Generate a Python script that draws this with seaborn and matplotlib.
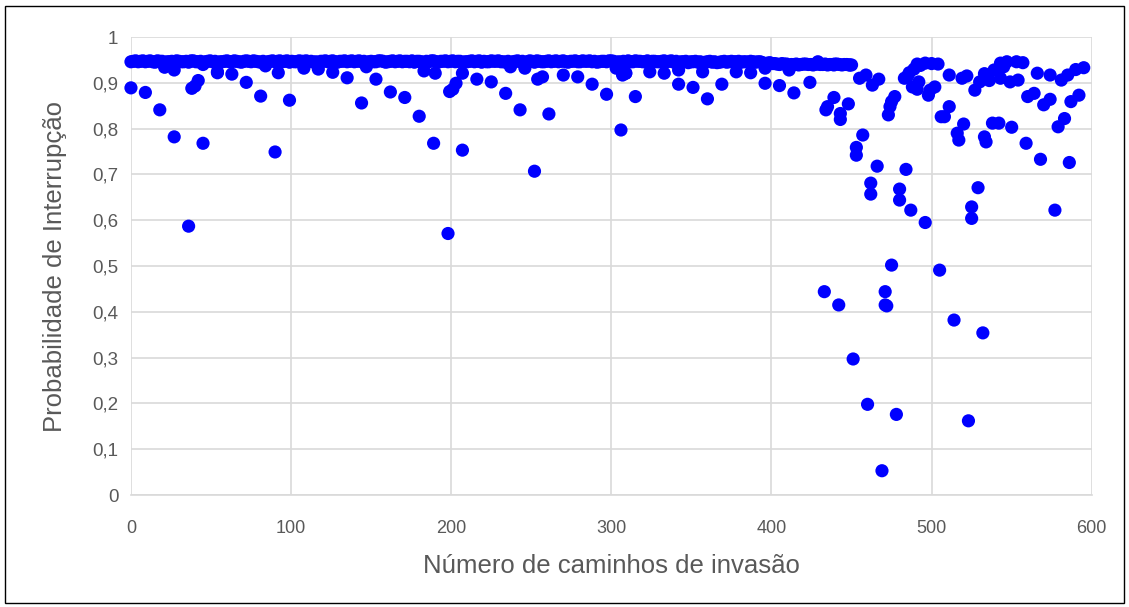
import numpy as np
import pandas as pd
import matplotlib.pyplot as plt
import seaborn as sns
from matplotlib.patches import Rectangle

# ---- dados ----
# faixa densa (x = 0, 3, 6, ..., 450)
band_y = [
    0.946, 0.948, 0.947, 0.946, 0.948, 0.945, 0.947, 0.934, 0.946, 0.928,
    0.947, 0.946, 0.945, 0.948, 0.946, 0.940, 0.947, 0.946, 0.924, 0.946,
    0.948, 0.946, 0.947, 0.945, 0.948, 0.946, 0.947, 0.945, 0.937, 0.947,
    0.946, 0.948, 0.947, 0.945, 0.946, 0.948, 0.947, 0.946, 0.945, 0.930,
    0.947, 0.946, 0.948, 0.945, 0.947, 0.946, 0.948, 0.947, 0.946, 0.935,
    0.947, 0.946, 0.948, 0.945, 0.947, 0.946, 0.948, 0.947, 0.946, 0.945,
    0.947, 0.926, 0.946, 0.948, 0.945, 0.947, 0.946, 0.948, 0.947, 0.921,
    0.946, 0.948, 0.947, 0.945, 0.946, 0.948, 0.947, 0.946, 0.945, 0.935,
    0.947, 0.946, 0.932, 0.948, 0.945, 0.947, 0.946, 0.948, 0.947, 0.946,
    0.948, 0.945, 0.947, 0.946, 0.948, 0.947, 0.946, 0.945, 0.947, 0.946,
    0.948, 0.932, 0.945, 0.921, 0.946, 0.948, 0.947, 0.946, 0.945, 0.947,
    0.946, 0.948, 0.947, 0.945, 0.928, 0.946, 0.944, 0.946, 0.945, 0.924,
    0.946, 0.945, 0.944, 0.946, 0.945, 0.947, 0.946, 0.945, 0.946, 0.947,
    0.945, 0.946, 0.932, 0.944, 0.942, 0.940, 0.941, 0.928, 0.940, 0.939,
    0.941, 0.940, 0.939, 0.941, 0.940, 0.939, 0.940, 0.941, 0.939, 0.940,
    0.939,
]
band_x = list(range(0, 3 * len(band_y), 3))

# segunda camada da faixa (x = 1.5, 4.5, ..., 448.5)
band2_y = [
    0.947, 0.946, 0.948, 0.947, 0.946, 0.948, 0.947, 0.946, 0.947, 0.948,
    0.946, 0.947, 0.948, 0.946, 0.947, 0.946, 0.948, 0.947, 0.946, 0.947,
    0.946, 0.948, 0.946, 0.947, 0.947, 0.948, 0.946, 0.947, 0.946, 0.948,
    0.947, 0.946, 0.948, 0.947, 0.946, 0.947, 0.948, 0.947, 0.946, 0.947,
    0.948, 0.947, 0.946, 0.947, 0.948, 0.947, 0.946, 0.948, 0.947, 0.946,
    0.946, 0.948, 0.947, 0.946, 0.948, 0.947, 0.946, 0.947, 0.948, 0.947,
    0.946, 0.947, 0.948, 0.946, 0.947, 0.948, 0.947, 0.946, 0.947, 0.946,
    0.947, 0.946, 0.948, 0.947, 0.946, 0.947, 0.948, 0.946, 0.947, 0.946,
    0.948, 0.947, 0.946, 0.947, 0.948, 0.946, 0.947, 0.946, 0.948, 0.947,
    0.946, 0.947, 0.948, 0.946, 0.947, 0.948, 0.947, 0.946, 0.947, 0.948,
    0.947, 0.946, 0.947, 0.948, 0.946, 0.947, 0.946, 0.948, 0.947, 0.946,
    0.947, 0.946, 0.948, 0.947, 0.946, 0.947, 0.946, 0.947, 0.946, 0.945,
    0.947, 0.946, 0.945, 0.947, 0.946, 0.946, 0.947, 0.946, 0.945, 0.946,
    0.946, 0.944, 0.943, 0.942, 0.941, 0.942, 0.941, 0.940, 0.941, 0.940,
    0.941, 0.940, 0.941, 0.940, 0.941, 0.940, 0.941, 0.940, 0.940, 0.939,
]
band2_x = [1.5 + 3 * i for i in range(len(band2_y))]

# pontos fora da faixa
out_x = [0, 9, 18, 27, 36, 38, 40, 42, 45, 54, 63, 72, 81, 90, 92, 99, 108, 126,
         135, 144, 153, 162, 171, 180, 189, 190, 198, 199, 201, 203, 207, 216, 225,
         234, 243, 252, 254, 257, 261, 270, 279, 288, 297, 306, 307, 309, 315, 324,
         333, 342, 351, 360, 369, 378, 387, 396, 405, 414, 424]
out_y = [0.889, 0.879, 0.841, 0.782, 0.587, 0.888, 0.893, 0.905, 0.768, 0.922,
         0.919, 0.901, 0.871, 0.749, 0.922, 0.862, 0.932, 0.923, 0.911, 0.856,
         0.908, 0.880, 0.868, 0.827, 0.768, 0.921, 0.571, 0.881, 0.886, 0.899,
         0.753, 0.908, 0.902, 0.877, 0.841, 0.707, 0.908, 0.913, 0.832, 0.917,
         0.913, 0.897, 0.875, 0.797, 0.917, 0.921, 0.870, 0.924, 0.921, 0.897,
         0.890, 0.865, 0.897, 0.924, 0.922, 0.899, 0.894, 0.878, 0.901]

# região final (x > 425)
tail_x = [429, 439, 449, 455, 459, 463, 467, 433, 434, 435, 439, 442, 443, 443,
          448, 451, 453, 453, 457, 460, 462, 462, 466, 469, 471, 471, 472, 473,
          474, 475, 475, 477, 478, 480, 480, 483, 484, 485, 486, 487, 488, 489,
          491, 491, 492, 493, 496, 496, 498, 499, 500, 502, 504, 505, 506, 508,
          511, 511, 514, 516, 517, 519, 520, 522, 523, 525, 525, 527, 529, 530,
          532, 533, 533, 534, 536, 538, 539, 542, 543, 543, 545, 547, 549, 550,
          553, 554, 557, 559, 560, 564, 566, 568, 570, 574, 574, 577, 579, 581,
          583, 585, 586, 587, 590, 592, 595]
tail_y = [0.946, 0.939, 0.939, 0.910, 0.917, 0.895, 0.908, 0.444, 0.841, 0.848,
          0.868, 0.415, 0.820, 0.833, 0.854, 0.297, 0.759, 0.742, 0.786, 0.198,
          0.681, 0.657, 0.718, 0.053, 0.444, 0.415, 0.413, 0.830, 0.848, 0.502,
          0.859, 0.870, 0.176, 0.668, 0.644, 0.910, 0.711, 0.915, 0.922, 0.622,
          0.891, 0.930, 0.941, 0.886, 0.902, 0.938, 0.595, 0.943, 0.873, 0.884,
          0.942, 0.891, 0.941, 0.491, 0.826, 0.826, 0.917, 0.848, 0.382, 0.790,
          0.775, 0.910, 0.810, 0.915, 0.162, 0.629, 0.604, 0.884, 0.671, 0.902,
          0.354, 0.920, 0.782, 0.771, 0.905, 0.812, 0.928, 0.812, 0.943, 0.910,
          0.935, 0.946, 0.902, 0.803, 0.946, 0.906, 0.944, 0.768, 0.870, 0.877,
          0.921, 0.733, 0.852, 0.864, 0.917, 0.622, 0.804, 0.906, 0.822, 0.917,
          0.726, 0.859, 0.929, 0.873, 0.933]

df = pd.DataFrame({
    "x": band_x + band2_x + out_x + tail_x,
    "y": band_y + band2_y + out_y + tail_y,
})

# ---- gráfico ----
plt.rcParams['font.family'] = ['Liberation Sans', 'DejaVu Sans']

fig = plt.figure(figsize=(11.29, 6.07), dpi=100)
ax = fig.add_axes([0.116, 0.1845, 0.851, 0.7545])

sns.scatterplot(data=df, x="x", y="y", ax=ax, color="#0000FF", s=90,
                edgecolor="none", linewidth=0, clip_on=False, zorder=3)

ax.set_xlim(0, 600)
ax.set_ylim(0, 1)
ax.set_xticks(range(0, 601, 100))
yt = [i / 10 for i in range(11)]
ax.set_yticks(yt)
ax.set_yticklabels(["0" if v == 0 else ("1" if v == 1 else f"{v:.1f}".replace(".", ",")) for v in yt])

ax.grid(True, color="#d9d9d9", linewidth=1.2)
ax.set_axisbelow(True)
for side in ["top", "right", "left"]:
    ax.spines[side].set_visible(False)
ax.spines["bottom"].set_color("#d9d9d9")
ax.spines["bottom"].set_linewidth(1.2)
ax.tick_params(axis="y", length=0, colors="#595959", labelsize=13.5, pad=9)
ax.tick_params(axis="x", length=0, colors="#595959", labelsize=13, pad=18)

ax.set_xlabel("Número de caminhos de invasão", fontsize=18.5, color="#595959")
ax.set_ylabel("Probabilidade de Interrupção", fontsize=18.5, color="#595959")
ax.xaxis.label.set_va("center")
ax.yaxis.label.set_va("center")
ax.xaxis.set_label_coords(0.5, -0.155)
ax.yaxis.set_label_coords(-0.079, 0.5)

fig.patches.append(Rectangle((5 / 1129, 4 / 607), 1 - 10 / 1129, 1 - 10 / 607,
                             transform=fig.transFigure, fill=False,
                             edgecolor="black", linewidth=1))

fig.savefig("out.png", dpi=100, facecolor="white")
